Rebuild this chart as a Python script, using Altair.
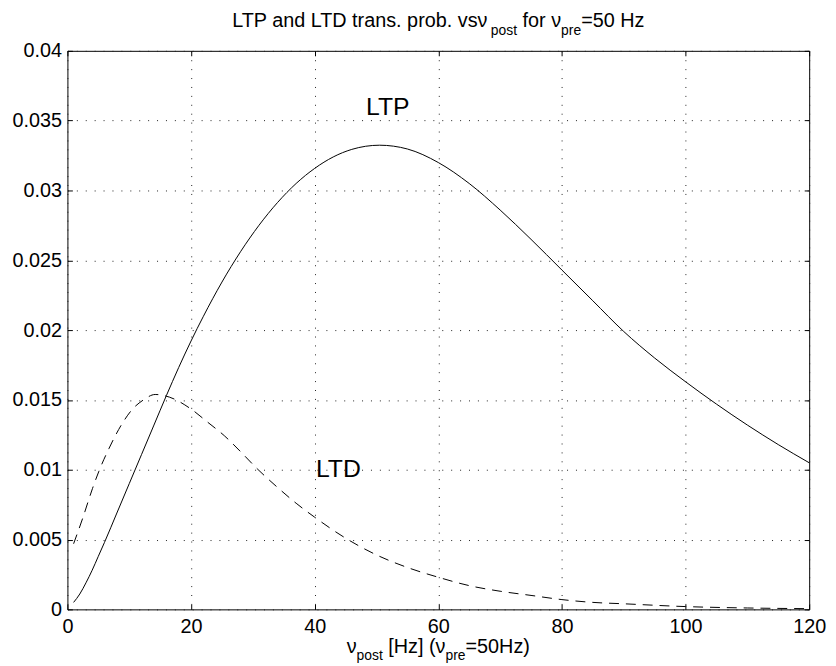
import altair as alt
import pandas as pd

# ---- data ----
ltp_x = [1, 2, 3, 4, 5, 6, 8, 10, 12, 14, 16, 18, 20, 22, 25, 28, 31, 34, 37, 40, 43, 46,
         50.5, 55, 60, 65, 70, 75, 80, 85, 90, 95, 100, 105, 110, 115, 120]
ltp_y = [0.0005, 0.0011, 0.0019, 0.0028, 0.0038, 0.0048, 0.0069, 0.0090, 0.0111, 0.0132,
         0.0153, 0.01732, 0.01922, 0.02099, 0.02344, 0.02561, 0.02751, 0.02914, 0.0305,
         0.03158, 0.0324, 0.03294, 0.03324, 0.03297, 0.0320, 0.0305, 0.0286, 0.0265,
         0.0243, 0.0221, 0.0199, 0.0180, 0.0163, 0.0147, 0.0132, 0.0118, 0.0105]

ltd_x = [1, 2.45, 4.05, 5.1, 6.7, 8.85, 10.45, 12.3, 14.2, 16.5, 20.05, 22.7, 25.4, 28,
         30.7, 33.9, 37, 40, 45, 50, 55, 60, 65, 70, 75, 80, 85, 90, 100, 110, 120]
ltd_y = [0.0047, 0.0065, 0.00865, 0.0099, 0.0115, 0.0133, 0.0143, 0.0150, 0.01539, 0.0152,
         0.01433, 0.0134, 0.01243, 0.0113, 0.01007, 0.00877, 0.0076, 0.0066, 0.0051,
         0.0039, 0.0030, 0.0023, 0.0017, 0.0013, 0.0010, 0.0007, 0.0005, 0.0004, 0.0002,
         0.0001, 0.00005]

x_ticks = [0, 20, 40, 60, 80, 100, 120]
y_ticks = [0, 0.005, 0.01, 0.015, 0.02, 0.025, 0.03, 0.035, 0.04]

ann_text = ["LTP", "LTD"]
ann_x = [48.3, 40.2]
ann_y = [0.0354, 0.0095]

# ---- layout ----
W, H = 749, 564
FONT = "Liberation Sans"
FS = 20
SUB = 14

ARIAL = {' ': 278, '.': 278, '(': 333, ')': 333, '[': 278, ']': 278, '=': 584,
         'H': 722, 'L': 556, 'T': 611, 'P': 667, 'D': 722, 'a': 556, 'b': 556,
         'd': 556, 'e': 556, 'f': 278, 'n': 556, 'o': 556, 'p': 556, 'r': 333,
         's': 500, 't': 278, 'v': 500, 'z': 500, 'ν': 500}


def tw(s, size):
    return sum(ARIAL.get(c, 556) for c in s) * size / 1000.0


def rich_text(pieces, y_main, sub_drop):
    """pieces: list of (text, is_sub). Leading spaces are turned into offsets."""
    total = sum(tw(t, SUB if s else FS) for t, s in pieces)
    x = W / 2 - total / 2
    layers = []
    for t, s in pieces:
        size = SUB if s else FS
        lead = len(t) - len(t.lstrip(' '))
        xt = x + tw(' ' * lead, size)
        layers.append(
            alt.Chart(alt.Data(values=[{}]))
            .mark_text(text=t.lstrip(' '), align="left", baseline="alphabetic",
                       font=FONT, fontSize=size, color="black")
            .encode(x=alt.value(xt), y=alt.value(y_main + (sub_drop if s else 0)))
        )
        x += tw(t, size)
    return layers


xs = alt.Scale(domain=[0, 120], nice=False, zero=False)
ys = alt.Scale(domain=[0, 0.04], nice=False, zero=False)

df_ltp = pd.DataFrame({"x": ltp_x, "y": ltp_y})
df_ltd = pd.DataFrame({"x": ltd_x, "y": ltd_y})
df_ann = pd.DataFrame({"x": ann_x, "y": ann_y, "t": ann_text})

grid_kw = dict(grid=True, gridDash=[1, 8], gridColor="#222222", gridOpacity=1, gridWidth=1)

axA_x = alt.Axis(orient="bottom", values=x_ticks, format="d", labelFont=FONT, labelFontSize=FS,
                 labelColor="black", labelPadding=7, ticks=False, domain=False, title="",
                 labelFlush=False, labelOverlap=False, **grid_kw)
axA_y = alt.Axis(orient="left", values=y_ticks, format="~g", labelFont=FONT, labelFontSize=FS,
                 labelColor="black", labelPadding=6, ticks=False, domain=False, title="",
                 labelFlush=False, labelOverlap=False, **grid_kw)

tick_kw = dict(labels=False, grid=False, domain=False, ticks=True, tickSize=5,
               tickColor="black", tickWidth=1, title="")
axB_x = alt.Axis(orient="top", offset=-H, values=x_ticks, **tick_kw)
axB_y = alt.Axis(orient="right", offset=-W, values=y_ticks, **tick_kw)
axC_x = alt.Axis(orient="bottom", offset=-H, values=x_ticks, **tick_kw)
axC_y = alt.Axis(orient="left", offset=-W, values=y_ticks, **tick_kw)

ltp_line = alt.Chart(df_ltp).mark_line(color="black", strokeWidth=1, interpolate="monotone").encode(
    x=alt.X("x:Q", scale=xs, axis=axA_x),
    y=alt.Y("y:Q", scale=ys, axis=axA_y),
)
ltd_line = alt.Chart(df_ltd).mark_line(color="black", strokeWidth=1, interpolate="monotone",
                                       strokeDash=[10, 7]).encode(
    x=alt.X("x:Q", scale=xs, axis=axB_x),
    y=alt.Y("y:Q", scale=ys, axis=axB_y),
)
ann = alt.Chart(df_ann).mark_text(align="left", baseline="alphabetic", font=FONT, fontSize=25,
                                  color="black").encode(
    x=alt.X("x:Q", scale=xs, axis=axC_x),
    y=alt.Y("y:Q", scale=ys, axis=axC_y),
    text="t:N",
)

title_layers = rich_text([("LTP and LTD trans. prob. vsν", False), ("post", True),
                          (" for ν", False), ("pre", True), ("=50 Hz", False)],
                         y_main=-24, sub_drop=8)
xlabel_layers = rich_text([("ν", False), ("post", True), (" [Hz] (ν", False),
                           ("pre", True), ("=50Hz)", False)],
                          y_main=608, sub_drop=7)

chart = alt.layer(ltp_line, ltd_line, ann, *title_layers, *xlabel_layers).resolve_axis(
    x="independent", y="independent"
).properties(
    width=W, height=H,
    autosize=alt.AutoSizeParams(type="none"),
    padding={"left": 60, "top": 40, "right": 19, "bottom": 60},
).configure_view(stroke="black", strokeWidth=1)

chart.save("out.html", embed_options={"renderer": "svg", "actions": False})
